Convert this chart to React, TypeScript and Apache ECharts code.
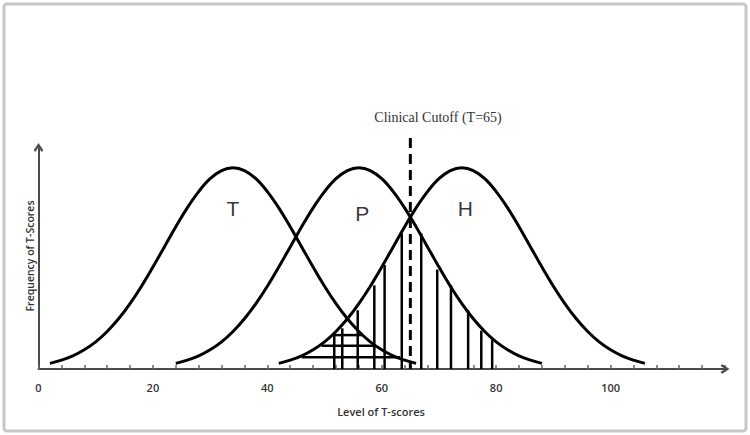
import React, { useEffect, useRef } from "react";
import * as echarts from "echarts";

// Curve samples (T-score, relative frequency)
const T_X = [2, 4, 6, 8, 10, 12, 14, 16, 18, 20, 22, 24, 26, 28, 30, 32, 34, 36, 38, 40, 42, 44, 46, 48, 50, 52, 54, 56, 58, 60, 62, 64, 66];
const T_Y = [0.025, 0.039, 0.058, 0.085, 0.12, 0.166, 0.222, 0.289, 0.366, 0.451, 0.54, 0.629, 0.713, 0.785, 0.842, 0.878, 0.89, 0.878, 0.842, 0.785, 0.713, 0.629, 0.54, 0.451, 0.366, 0.289, 0.222, 0.166, 0.12, 0.085, 0.058, 0.039, 0.025];
const P_X = [24, 26, 28, 30, 32, 34, 36, 38, 40, 42, 44, 46, 48, 50, 52, 54, 56, 58, 60, 62, 64, 66, 68, 70, 72, 74, 76, 78, 80, 82, 84, 86, 88];
const P_Y = [0.025, 0.039, 0.058, 0.085, 0.12, 0.166, 0.222, 0.289, 0.366, 0.451, 0.54, 0.629, 0.713, 0.785, 0.842, 0.878, 0.89, 0.878, 0.842, 0.785, 0.713, 0.629, 0.54, 0.451, 0.366, 0.289, 0.222, 0.166, 0.12, 0.085, 0.058, 0.039, 0.025];
const H_X = [42, 44, 46, 48, 50, 52, 54, 56, 58, 60, 62, 64, 66, 68, 70, 72, 74, 76, 78, 80, 82, 84, 86, 88, 90, 92, 94, 96, 98, 100, 102, 104, 106];
const H_Y = [0.025, 0.039, 0.058, 0.085, 0.12, 0.166, 0.222, 0.289, 0.366, 0.451, 0.54, 0.629, 0.713, 0.785, 0.842, 0.878, 0.89, 0.878, 0.842, 0.785, 0.713, 0.629, 0.54, 0.451, 0.366, 0.289, 0.222, 0.166, 0.12, 0.085, 0.058, 0.039, 0.025];

// Vertical hatching (x, top)
const HATCH_V_X = [51.7, 53.1, 55.8, 58.7, 60.5, 63.5, 66.9, 69.7, 72.1, 75.1, 77.4, 79.3];
const HATCH_V_TOP = [0.16, 0.18, 0.26, 0.37, 0.46, 0.6, 0.6, 0.44, 0.37, 0.26, 0.17, 0.13];

// Horizontal hatching (y, from, to)
const HATCH_H_Y = [0.15, 0.103, 0.052];
const HATCH_H_X0 = [51.3, 49.5, 46.0];
const HATCH_H_X1 = [56.5, 58.5, 63.2];

const CUTOFF = 65;
const CUTOFF_TOP = 1.022;

const CURVE_LABELS = ["T", "P", "H"];
const CURVE_LABEL_X = [34, 56.6, 74.6];
const CURVE_LABEL_Y = [0.712, 0.69, 0.712];

const X_MIN = 0;
const X_MAX = 120;
const X_TICK = 4;
const X_LABEL_STEP = 20;
const Y_MAX = 0.98;

const zip = (xs: number[], ys: number[]) => xs.map((x, i) => [x, ys[i]]);

const chevron = "path://M5,0 L10,7.6 L8.2,9.4 L5,4 L1.8,9.4 L0,7.6 Z";

export default function App() {
  const ref = useRef<HTMLDivElement>(null);

  useEffect(() => {
    const chart = echarts.init(ref.current!, null, { renderer: "svg" });

    const curve = (name: string, xs: number[], ys: number[]) => ({
      name,
      type: "line",
      data: zip(xs, ys),
      smooth: 0.4,
      symbol: "none",
      lineStyle: { color: "#000", width: 3 },
      z: 3,
    });

    const option: any = {
      animation: false,
      backgroundColor: "#fff",
      grid: { left: 38.5, right: 25, top: 147.5, bottom: 66 },
      xAxis: {
        type: "value",
        min: X_MIN,
        max: X_MAX,
        interval: X_TICK,
        axisLine: {
          show: true,
          symbol: ["none", chevron],
          symbolSize: [11, 9],
          lineStyle: { color: "#4a4a4a", width: 2 },
        },
        axisTick: { show: true, inside: true, length: 4, lineStyle: { color: "#666", width: 1.5 } },
        axisLabel: {
          margin: 13,
          color: "#333",
          fontSize: 11,
          fontFamily: "Open Sans",
          fontWeight: 600,
          formatter: (v: number) => (v % X_LABEL_STEP === 0 && v < X_MAX ? String(v) : ""),
        },
        splitLine: { show: false },
      },
      yAxis: {
        type: "value",
        min: 0,
        max: Y_MAX,
        axisLine: {
          show: true,
          symbol: ["none", chevron],
          symbolSize: [11, 9],
          lineStyle: { color: "#4a4a4a", width: 2 },
        },
        axisTick: { show: false },
        axisLabel: { show: false },
        splitLine: { show: false },
      },
      graphic: [
        {
          type: "rect",
          shape: { x: 4, y: 4, width: 742, height: 427, r: 3 },
          style: { fill: "none", stroke: "#c8c8c8", lineWidth: 3 },
          silent: true,
        },
        {
          type: "text",
          x: 438,
          y: 117,
          style: {
            text: "Clinical Cutoff (T=65)",
            fill: "#333",
            font: "14px 'Liberation Serif'",
            align: "center",
            verticalAlign: "middle",
          },
        },
        {
          type: "text",
          x: 381,
          y: 411,
          style: {
            text: "Level of T-scores",
            fill: "#333",
            font: "600 11px 'Open Sans'",
            align: "center",
            verticalAlign: "middle",
          },
        },
        {
          type: "text",
          x: 30,
          y: 256,
          rotation: Math.PI / 2,
          style: {
            text: "Frequency of T-Scores",
            fill: "#333",
            font: "600 10.5px 'Open Sans'",
            align: "center",
            verticalAlign: "middle",
          },
        },
      ],
      series: [
        curve("T", T_X, T_Y),
        curve("P", P_X, P_Y),
        curve("H", H_X, H_Y),
        {
          name: "vertical hatch",
          type: "custom",
          data: HATCH_V_X.map((x, i) => [x, 0, HATCH_V_TOP[i]]),
          encode: { x: 0, y: [1, 2] },
          renderItem: (params: any, api: any) => {
            const p0 = api.coord([api.value(0), api.value(1)]);
            const p1 = api.coord([api.value(0), api.value(2)]);
            return {
              type: "line",
              shape: { x1: p0[0], y1: p0[1], x2: p1[0], y2: p1[1] },
              style: { stroke: "#000", lineWidth: 2.5 },
            };
          },
          z: 2,
        },
        {
          name: "horizontal hatch",
          type: "custom",
          data: HATCH_H_Y.map((y, i) => [HATCH_H_X0[i], HATCH_H_X1[i], y]),
          encode: { x: [0, 1], y: 2 },
          renderItem: (params: any, api: any) => {
            const p0 = api.coord([api.value(0), api.value(2)]);
            const p1 = api.coord([api.value(1), api.value(2)]);
            return {
              type: "line",
              shape: { x1: p0[0], y1: p0[1], x2: p1[0], y2: p1[1] },
              style: { stroke: "#000", lineWidth: 2.5 },
            };
          },
          z: 2,
        },
        {
          name: "cutoff",
          type: "custom",
          clip: false,
          data: [[CUTOFF, CUTOFF_TOP, 0]],
          encode: { x: 0, y: [1, 2] },
          renderItem: (params: any, api: any) => {
            const p0 = api.coord([api.value(0), api.value(1)]);
            const p1 = api.coord([api.value(0), api.value(2)]);
            return {
              type: "line",
              shape: { x1: p0[0], y1: p0[1], x2: p1[0], y2: p1[1] },
              style: { stroke: "#000", lineWidth: 3, lineDash: [10, 6] },
            };
          },
          z: 4,
        },
        {
          name: "labels",
          type: "scatter",
          symbolSize: 1,
          itemStyle: { color: "rgba(0,0,0,0)" },
          data: CURVE_LABELS.map((n, i) => ({ name: n, value: [CURVE_LABEL_X[i], CURVE_LABEL_Y[i]] })),
          label: {
            show: true,
            position: "inside",
            formatter: (p: any) => p.name,
            color: "#000",
            fontSize: 21,
            fontFamily: "Liberation Sans",
          },
          z: 5,
        },
      ],
    };

    chart.setOption(option);
    return () => chart.dispose();
  }, []);

  return (
    <div
      ref={ref}
      style={{ position: "fixed", left: 0, top: 0, width: 750, height: 435, background: "#fff" }}
    />
  );
}
